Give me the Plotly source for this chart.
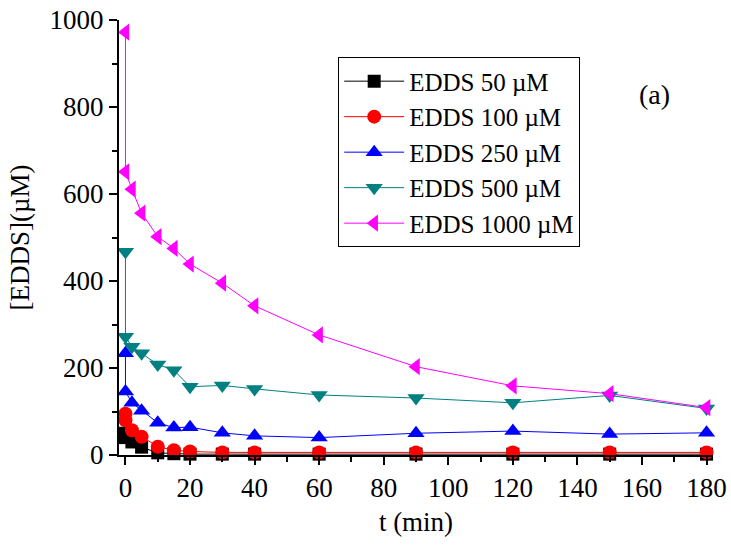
import plotly.graph_objects as go

times = [0, 0, 2, 5, 10, 15, 20, 30, 40, 60, 90, 120, 150, 180]
edds50 = [50, 40, 30, 18, 5, 3, 2, 2, 2, 2, 2, 2, 2, 2]
edds100 = [95, 80, 57, 42, 19, 11, 8, 6, 6, 6, 6, 6, 6, 6]
edds250 = [234, 146, 120, 102, 74, 63, 64, 51, 44, 40, 50, 55, 48, 51]
edds500 = [467, 272, 249, 234, 208, 195, 157, 160, 152, 138, 131, 120, 137, 107]
edds1000 = [972, 651, 611, 556, 502, 475, 439, 395, 343, 276, 203, 159, 141, 109]

series_names = ["EDDS 50 µM", "EDDS 100 µM", "EDDS 250 µM", "EDDS 500 µM", "EDDS 1000 µM"]
series_values = [edds50, edds100, edds250, edds500, edds1000]
colors = ["#000000", "#FF0000", "#0000FF", "#008080", "#FF00FF"]
symbols = ["square", "circle", "triangle-up", "triangle-down", "triangle-left"]
msizes = [13, 14, 15, 15, 15]

FONT = "Liberation Serif, Times New Roman, serif"

fig = go.Figure()
for name, vals, c, s, ms in zip(series_names, series_values, colors, symbols, msizes):
    fig.add_trace(go.Scatter(
        x=times, y=vals, name=name, mode="lines+markers",
        line=dict(color=c, width=1),
        marker=dict(symbol=s, size=ms, color=c, line=dict(width=0)),
        cliponaxis=False,
    ))

fig.update_layout(
    width=731, height=547,
    margin=dict(l=119, r=18, t=20, b=92, autoexpand=False),
    paper_bgcolor="white", plot_bgcolor="white",
    font=dict(family=FONT, size=27, color="black"),
    showlegend=True,
    legend=dict(
        x=0.369, y=0.914, xanchor="left", yanchor="top",
        bordercolor="black", borderwidth=1, bgcolor="white",
        font=dict(family=FONT, size=25, color="black"),
        tracegroupgap=0, itemwidth=60,
    ),
    annotations=[dict(
        text="(a)", x=0.902, y=0.828, xref="paper", yref="paper",
        xanchor="center", yanchor="middle",
        showarrow=False, font=dict(family=FONT, size=28, color="black"),
    )],
)

fig.update_xaxes(
    range=[-2, 182], showgrid=False, zeroline=False, automargin=False,
    showline=True, linecolor="black", linewidth=2, mirror=False,
    ticks="outside", ticklen=8, tickwidth=2, tickcolor="black",
    tick0=0, dtick=20,
    minor=dict(ticks="outside", ticklen=5, tickwidth=2, tickcolor="black", dtick=10, tick0=0),
    tickfont=dict(family=FONT, size=27),
    title=dict(text="t (min)", font=dict(family=FONT, size=27), standoff=10),
)
fig.update_yaxes(
    range=[0, 1000], showgrid=False, zeroline=False, automargin=False,
    showline=True, linecolor="black", linewidth=2, mirror=False,
    ticks="outside", ticklen=8, tickwidth=2, tickcolor="black",
    tick0=0, dtick=200,
    minor=dict(ticks="outside", ticklen=5, tickwidth=2, tickcolor="black", dtick=100, tick0=0),
    tickfont=dict(family=FONT, size=27),
    title=dict(text="[EDDS](µM)", font=dict(family=FONT, size=27), standoff=12),
)

fig.write_html(
    "out.html",
    config={"displayModeBar": False},
    post_script="document.body.style.margin='0';document.body.style.padding='0';",
)
